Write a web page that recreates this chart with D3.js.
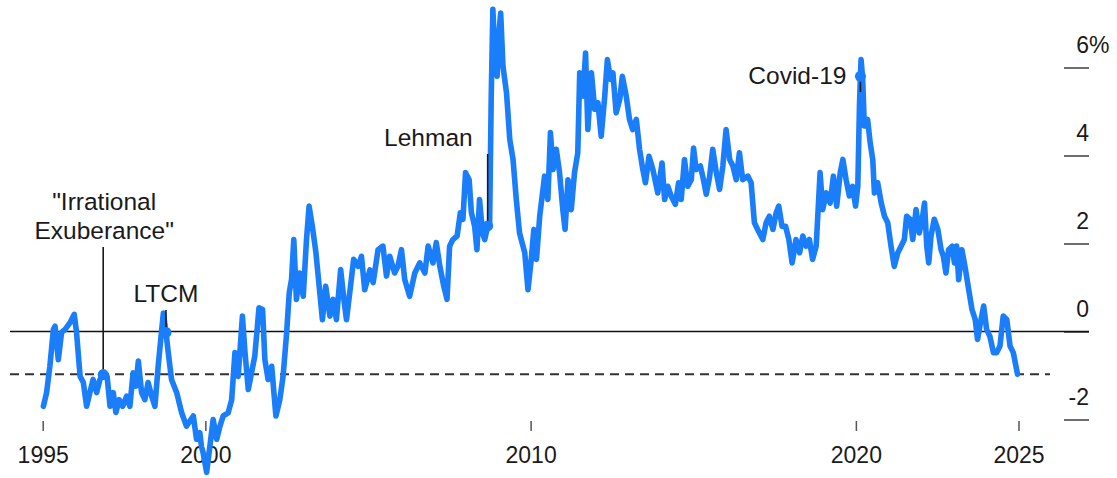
<!DOCTYPE html>
<html>
<head>
<meta charset="utf-8">
<script src="https://cdn.jsdelivr.net/npm/d3@7"></script>
<style>
  html, body { margin: 0; padding: 0; background: #fff; }
  svg { display: block; font-family: "Liberation Sans", Arial, Helvetica, sans-serif; }
</style>
</head>
<body>
<svg id="chart" width="1117" height="478"></svg>
<script>
// Equity yield gap, percentage points (decimal year, value)
const years = [
  1995.02,1995.12,1995.22,1995.33,1995.38,1995.48,1995.58,1995.69,1995.84,1995.97,
  1996.04,1996.15,1996.25,1996.35,1996.45,1996.55,1996.66,1996.76,1996.86,1996.98,
  1997.07,1997.17,1997.25,1997.35,1997.46,1997.58,1997.68,1997.78,1997.87,1997.94,
  1998.04,1998.14,1998.24,1998.35,1998.45,1998.55,1998.66,1998.71,1998.79,1998.86,
  1998.96,1999.12,1999.27,1999.42,1999.63,1999.73,1999.83,1999.88,1999.93,2000.04,
  2000.14,2000.24,2000.35,2000.45,2000.55,2000.70,2000.81,2000.91,2001.01,2001.14,
  2001.22,2001.32,2001.42,2001.52,2001.65,2001.76,2001.83,2001.93,2002.04,2002.17,
  2002.29,2002.39,2002.50,2002.58,2002.65,2002.72,2002.80,2002.90,2003.01,2003.11,
  2003.19,2003.29,2003.40,2003.50,2003.60,2003.70,2003.83,2003.93,2004.03,2004.16,
  2004.26,2004.34,2004.44,2004.56,2004.70,2004.80,2004.90,2005.06,2005.16,2005.31,
  2005.46,2005.57,2005.67,2005.82,2005.92,2006.03,2006.13,2006.28,2006.44,2006.59,
  2006.75,2006.85,2007.00,2007.10,2007.21,2007.33,2007.43,2007.51,2007.61,2007.74,
  2007.84,2007.92,2008.00,2008.11,2008.18,2008.28,2008.35,2008.43,2008.52,2008.59,
  2008.68,2008.74,2008.79,2008.84,2008.90,2008.97,2009.03,2009.08,2009.15,2009.26,
  2009.36,2009.46,2009.56,2009.66,2009.82,2009.92,2010.02,2010.10,2010.18,2010.28,
  2010.43,2010.53,2010.61,2010.69,2010.79,2010.89,2010.99,2011.06,2011.15,2011.25,
  2011.35,2011.45,2011.51,2011.61,2011.69,2011.76,2011.87,2011.97,2012.07,2012.17,
  2012.28,2012.36,2012.46,2012.53,2012.63,2012.74,2012.82,2012.94,2013.04,2013.14,
  2013.25,2013.35,2013.45,2013.53,2013.64,2013.76,2013.91,2014.04,2014.12,2014.22,
  2014.32,2014.45,2014.55,2014.63,2014.73,2014.83,2014.94,2015.01,2015.09,2015.22,
  2015.30,2015.40,2015.50,2015.60,2015.71,2015.81,2015.91,2016.01,2016.12,2016.22,
  2016.32,2016.42,2016.52,2016.68,2016.78,2016.88,2016.98,2017.14,2017.24,2017.34,
  2017.45,2017.55,2017.63,2017.73,2017.84,2017.94,2018.04,2018.16,2018.27,2018.37,
  2018.47,2018.57,2018.67,2018.78,2018.90,2018.98,2019.09,2019.21,2019.31,2019.41,
  2019.52,2019.60,2019.70,2019.80,2019.90,2019.99,2020.06,2020.11,2020.14,2020.16,
  2020.21,2020.26,2020.36,2020.44,2020.52,2020.57,2020.67,2020.78,2020.88,2020.98,
  2021.08,2021.18,2021.29,2021.39,2021.49,2021.56,2021.67,2021.75,2021.85,2021.95,
  2022.04,2022.11,2022.18,2022.24,2022.31,2022.41,2022.52,2022.62,2022.69,2022.77,
  2022.85,2022.96,2023.03,2023.10,2023.16,2023.26,2023.37,2023.47,2023.57,2023.67,
  2023.74,2023.83,2023.93,2024.02,2024.12,2024.23,2024.33,2024.43,2024.53,2024.64,
  2024.74,2024.84,2024.97
];
const spread = [
  -1.70,-1.39,-0.79,0.05,0.12,-0.64,-0.02,0.05,0.20,0.39,
  -0.02,-1.02,-1.16,-1.70,-1.39,-1.09,-1.39,-1.09,-0.98,-1.02,
  -1.70,-1.39,-1.84,-1.55,-1.70,-1.47,-1.70,-0.94,-1.24,-0.67,
  -1.39,-1.55,-1.16,-1.47,-1.70,-0.79,0.05,0.42,-0.02,-0.48,
  -1.09,-1.39,-1.84,-2.15,-1.92,-2.45,-2.30,-2.61,-2.75,-3.20,
  -2.61,-2.00,-2.45,-2.15,-1.92,-1.85,-1.55,-0.48,-1.02,0.35,
  -0.48,-1.32,-0.94,-0.56,0.54,0.50,-0.64,-1.09,-0.79,-1.92,
  -1.55,-1.02,-0.03,0.88,1.18,2.09,0.73,1.33,0.80,2.09,
  2.85,2.39,1.79,1.03,0.27,1.03,0.35,0.73,0.27,1.41,
  0.73,0.27,0.88,1.64,1.48,1.71,0.95,1.40,1.11,1.86,
  1.94,1.26,1.71,1.33,1.48,1.86,1.18,0.80,1.33,1.56,
  1.33,1.94,1.56,2.02,1.48,1.03,0.73,1.94,2.09,2.17,
  2.70,2.55,3.61,3.45,2.70,2.39,1.86,3.00,2.24,2.09,
  2.40,2.47,5.35,7.32,6.30,5.80,6.80,7.24,6.03,5.42,
  4.36,3.91,3.00,2.24,1.79,0.95,1.64,2.32,1.64,2.62,
  3.53,3.00,4.52,3.68,4.14,3.61,2.77,2.32,3.45,2.77,
  3.61,4.06,5.88,5.35,6.33,4.59,5.88,5.05,5.20,4.44,
  5.35,6.18,5.73,5.88,4.97,5.27,5.80,5.35,4.82,4.59,
  4.82,4.14,3.68,3.38,3.98,3.68,3.15,3.83,3.00,3.30,
  3.08,2.89,3.38,3.00,3.91,3.30,3.45,4.17,3.68,3.76,
  3.50,3.12,3.50,4.14,3.61,3.23,3.76,4.59,3.91,3.76,
  3.45,4.06,3.45,3.53,3.38,2.47,2.32,2.09,2.47,2.62,
  2.32,2.70,2.85,2.39,2.39,2.09,1.56,2.09,1.79,2.17,
  1.94,2.09,1.64,1.94,3.61,2.77,3.15,2.92,3.53,2.85,
  3.61,3.91,3.45,3.08,3.30,2.85,3.30,5.12,5.80,6.18,
  5.73,4.67,4.82,4.29,3.90,3.15,3.38,2.92,2.62,2.47,
  1.94,1.48,1.79,1.94,2.09,2.62,2.55,2.09,2.77,2.24,
  2.55,2.92,1.94,1.56,2.17,2.55,2.32,1.86,1.71,1.33,
  1.86,1.94,1.56,1.94,1.18,1.86,1.41,0.95,0.50,0.27,
  -0.18,0.20,0.58,0.05,-0.11,-0.48,-0.48,-0.33,0.35,0.27,
  -0.33,-0.48,-0.97
];

const xTickYears = [1995, 2000, 2010, 2020, 2025];
const yTickValues = [-2, 0, 2, 4, 6];

// Annotated events
const eventLabels = [["\"Irrational", "Exuberance\""], ["LTCM"], ["Lehman"], ["Covid-19"]];
const eventYears = [1996.86, 1998.79, 2008.68, 2020.14];
const eventValues = [-0.98, -0.02, 2.40, 5.80];

const data = years.map((t, i) => ({ t, v: spread[i] }));
const latest = spread[spread.length - 1];

const svg = d3.select("#chart");
const BLUE = "#1a7dfa";
const INK = "#1a1a1a";

const x = d3.scaleLinear().domain([1995, 2025]).range([42.7, 1018.5]);
const y = d3.scaleLinear().domain([-2, 6]).range([419.5, 67.5]);

// Right-hand value axis
const yAxis = svg.append("g")
  .attr("transform", "translate(1064,0)")
  .call(d3.axisRight(y).tickValues(yTickValues).tickSize(25).tickFormat(d => d));
yAxis.select(".domain").remove();
yAxis.selectAll(".tick line").attr("stroke", "#6e6e6e").attr("stroke-width", 2);
yAxis.selectAll(".tick text")
  .attr("x", 25).attr("dy", null).attr("y", -15)
  .attr("text-anchor", "end")
  .attr("fill", INK)
  .style("font-size", "23px");
yAxis.selectAll(".tick").filter(d => d === 6)
  .append("text")
  .attr("x", 25).attr("y", -15)
  .attr("fill", INK)
  .style("font-size", "23px")
  .text("%");

// Bottom year axis
const xAxis = svg.append("g")
  .attr("transform", "translate(0,421)")
  .call(d3.axisBottom(x).tickValues(xTickYears).tickSize(10).tickFormat(d3.format("d")));
xAxis.select(".domain").remove();
xAxis.selectAll(".tick line").attr("stroke", "#555").attr("stroke-width", 1.5);
xAxis.selectAll(".tick text")
  .attr("y", 42).attr("dy", null)
  .attr("fill", INK)
  .style("font-size", "23px");

// Zero line and latest-level reference
svg.append("line")
  .attr("x1", 10).attr("x2", 1089)
  .attr("y1", y(0)).attr("y2", y(0))
  .attr("stroke", "#111").attr("stroke-width", 1.6);

svg.append("line")
  .attr("x1", 10).attr("x2", 1050)
  .attr("y1", y(latest)).attr("y2", y(latest))
  .attr("stroke", "#333").attr("stroke-width", 2)
  .attr("stroke-dasharray", "9,6");

// Series
svg.append("path")
  .datum(data)
  .attr("fill", "none")
  .attr("stroke", BLUE)
  .attr("stroke-width", 5.6)
  .attr("stroke-linejoin", "round")
  .attr("stroke-linecap", "round")
  .attr("d", d3.line().x(d => x(d.t)).y(d => y(d.v)));

// Event annotations: leader top, label anchor, label position relative to event x
const eventLayout = [
  { top: 247, anchor: "middle", dx: 1, baselines: [210, 239] },
  { top: 310, anchor: "middle", dx: 0, baselines: [302] },
  { top: 154, anchor: "end", dx: -15, baselines: [146] },
  { top: 92, anchor: "end", dx: -14, baselines: [84] }
];

const events = eventYears.map((t, i) => ({
  t, v: eventValues[i], lines: eventLabels[i], ...eventLayout[i]
}));

const ev = svg.append("g");
ev.selectAll("line.leader")
  .data(events)
  .join("line")
  .attr("class", "leader")
  .attr("x1", d => x(d.t)).attr("x2", d => x(d.t))
  .attr("y1", d => d.top).attr("y2", d => y(d.v))
  .attr("stroke", INK).attr("stroke-width", 1.6);

ev.selectAll("circle")
  .data(events)
  .join("circle")
  .attr("cx", d => x(d.t)).attr("cy", d => y(d.v))
  .attr("r", 5.5)
  .attr("fill", BLUE);

events.forEach(d => {
  d.lines.forEach((line, j) => {
    ev.append("text")
      .attr("x", x(d.t) + d.dx)
      .attr("y", d.baselines[j])
      .attr("text-anchor", d.anchor)
      .attr("fill", INK)
      .style("font-size", "24.5px")
      .text(line);
  });
});
</script>
</body>
</html>
